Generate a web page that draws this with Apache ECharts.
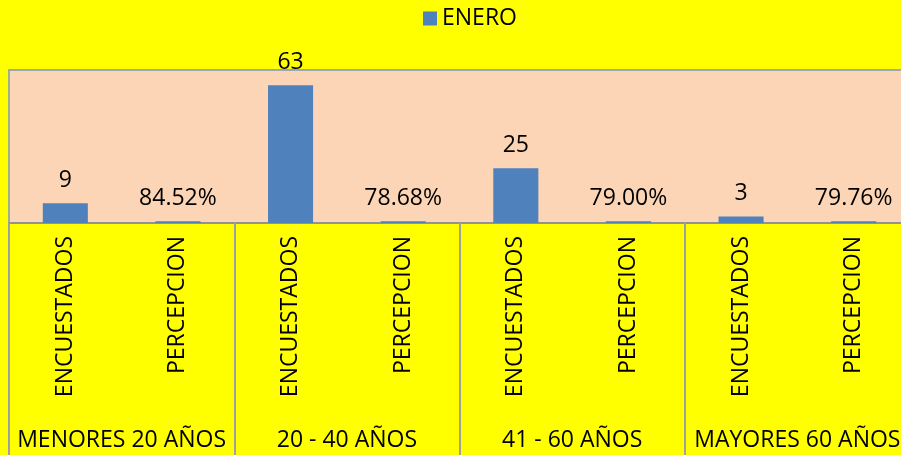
<!DOCTYPE html>
<html>
<head>
<meta charset="utf-8">
<script src="https://cdn.jsdelivr.net/npm/echarts@6/dist/echarts.min.js"></script>
<style>
  html, body { margin: 0; padding: 0; background: #ffff00; }
  #chart { width: 901px; height: 455px; }
</style>
</head>
<body>
<div id="chart"></div>
<script>
// datos
var grupos = ["MENORES 20 AÑOS", "20 - 40 AÑOS", "41 - 60 AÑOS", "MAYORES 60 AÑOS"];
var subCategorias = ["ENCUESTADOS", "PERCEPCION"];
var encuestados = [9, 63, 25, 3];
var percepcion = [84.52, 78.68, 79.00, 79.76]; // en %

var fuente = "Open Sans";
var tam = 23;
var myChart = echarts.init(document.getElementById("chart"));

// armar las 8 barras (encuestados + percepcion por grupo)
var categorias = [];
var valores = [];
for (var i = 0; i < grupos.length; i++) {
  categorias.push(subCategorias[0], subCategorias[1]);
  valores.push({ value: encuestados[i], etiqueta: String(encuestados[i]) });
  valores.push({ value: percepcion[i] / 100, etiqueta: percepcion[i].toFixed(2) + "%" });
}

var option = {
  backgroundColor: "#ffff00",
  animation: false,
  textStyle: { fontFamily: fuente },
  legend: {
    top: 2,
    left: 418,
    icon: "rect",
    itemWidth: 14,
    itemHeight: 14,
    itemGap: 5,
    textStyle: { fontSize: tam, color: "#000", fontFamily: fuente },
    data: ["ENERO"]
  },
  grid: {
    left: 9,
    top: 70,
    width: 901,
    height: 153,
    outerBoundsMode: "none",
    containLabel: false,
    show: true,
    backgroundColor: "#fbd5b5",
    borderColor: "#7f97bd",
    borderWidth: 1.5
  },
  xAxis: [
    {
      type: "category",
      data: categorias,
      position: "bottom",
      axisLine: { lineStyle: { color: "#8c8c8c", width: 1.5 } },
      axisTick: { show: false },
      axisLabel: {
        interval: 0,
        rotate: 90,
        margin: 13,
        fontSize: tam,
        color: "#000",
        fontFamily: fuente
      }
    },
    {
      type: "category",
      data: grupos,
      position: "bottom",
      axisLine: { show: false },
      axisTick: { show: true, length: 232, lineStyle: { color: "#a0a0a0", width: 2 } },
      axisLabel: {
        interval: 0,
        margin: 206,
        fontSize: tam,
        color: "#000",
        fontFamily: fuente
      }
    }
  ],
  yAxis: {
    type: "value",
    min: 0,
    max: 70,
    show: false,
    splitLine: { show: false }
  },
  series: [
    {
      name: "ENERO",
      type: "bar",
      xAxisIndex: 0,
      barWidth: "40%",
      itemStyle: { color: "#4f81bd" },
      label: {
        show: true,
        position: "top",
        distance: 11,
        fontSize: tam,
        color: "#000",
        fontFamily: fuente,
        formatter: function (p) { return p.data.etiqueta; }
      },
      data: valores
    }
  ]
};
myChart.setOption(option);
</script>
</body>
</html>
